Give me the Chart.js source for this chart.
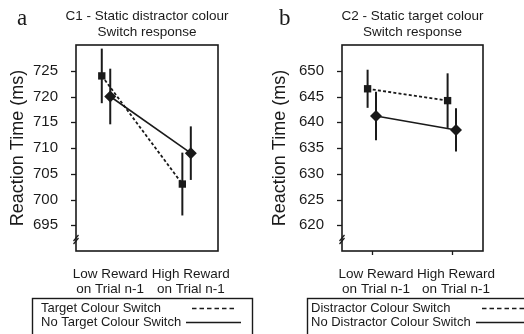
<!DOCTYPE html>
<html>
<head>
<meta charset="utf-8">
<script src="https://cdn.jsdelivr.net/npm/chart.js@4.4.0/dist/chart.umd.min.js"></script>
<style>
  html, body { margin: 0; padding: 0; background: #fff; }
  #wrap { position: relative; width: 524px; height: 334px; overflow: hidden; }
  .panel { position: absolute; top: 0; width: 262px; height: 334px; }
</style>
</head>
<body>
<div id="wrap">
  <div class="panel" style="left:0"><canvas id="panel-a"></canvas></div>
  <div class="panel" style="left:262px"><canvas id="panel-b"></canvas></div>
</div>
<script>
// --- data ---
const categories = [['Low Reward', 'on Trial n-1'], ['High Reward', 'on Trial n-1']];

// panel a : C1
const titleA = ['C1 - Static distractor colour', 'Switch response'];
const ticksA = [695, 700, 705, 710, 715, 720, 725];
const switchMeanA = [724, 703];      // Target Colour Switch (dashed, squares)
const switchErrA = [5.3, 6.1];
const noSwitchMeanA = [720, 709];    // No Target Colour Switch (solid, diamonds)
const noSwitchErrA = [5.4, 5.2];
const legendA = ['Target Colour Switch', 'No Target Colour Switch'];

// panel b : C2
const titleB = ['C2 - Static target colour', 'Switch response'];
const ticksB = [620, 625, 630, 635, 640, 645, 650];
const switchMeanB = [646.5, 644.2];  // Distractor Colour Switch
const switchErrB = [3.7, 5.3];
const noSwitchMeanB = [641.2, 638.5];
const noSwitchErrB = [4.7, 4.2];
const legendB = ['Distractor Colour Switch', 'No Distractor Colour Switch'];

const INK = '#1a1a1a';
const SANS = "'Liberation Sans', Arial, sans-serif";
Chart.defaults.font.family = SANS;
Chart.defaults.color = INK;

function toPoints(means, shift) {
    return means.map((m, i) => ({ x: i + shift, y: m }));
}

// error bars, box, ticks, titles, legend
const panelDecor = {
    id: 'panelDecor',
    beforeDatasetsDraw(chart, args, o) {
        const ctx = chart.ctx;
        const y = chart.scales.y;
        ctx.save();
        ctx.strokeStyle = INK;
        ctx.lineWidth = 2;
        chart.data.datasets.forEach((ds, di) => {
            const meta = chart.getDatasetMeta(di);
            ds.errors.forEach((e, i) => {
                const px = meta.data[i].x;
                ctx.beginPath();
                ctx.moveTo(px, y.getPixelForValue(ds.data[i].y + e));
                ctx.lineTo(px, y.getPixelForValue(ds.data[i].y - e));
                ctx.stroke();
            });
        });
        ctx.restore();
    },
    afterDraw(chart, args, o) {
        const ctx = chart.ctx;
        const a = chart.chartArea;
        const x = chart.scales.x;
        const y = chart.scales.y;
        ctx.save();
        ctx.strokeStyle = INK;
        ctx.fillStyle = INK;

        // frame
        ctx.lineWidth = 1.6;
        ctx.strokeRect(a.left, a.top, a.right - a.left, a.bottom - a.top);

        // y tick marks
        ctx.lineWidth = 1.3;
        y.ticks.forEach(t => {
            const py = Math.round(y.getPixelForValue(t.value)) + 0.5;
            ctx.beginPath();
            ctx.moveTo(a.left - 5, py);
            ctx.lineTo(a.left, py);
            ctx.stroke();
        });
        // x tick marks (only panel b)
        if (o.xTicks) {
            x.ticks.forEach(t => {
                const px = Math.round(x.getPixelForValue(t.value)) + 0.5;
                ctx.beginPath();
                ctx.moveTo(px, a.bottom);
                ctx.lineTo(px, a.bottom + 4);
                ctx.stroke();
            });
        }

        // axis break
        const by = a.bottom - 13;
        ctx.lineWidth = 1.2;
        [0, 3].forEach(d => {
            ctx.beginPath();
            ctx.moveTo(a.left - 2.5, by + 3 + d);
            ctx.lineTo(a.left + 2.5, by - 3 + d);
            ctx.stroke();
        });

        // panel letter
        ctx.font = "23px 'Liberation Serif', 'Times New Roman', serif";
        ctx.textAlign = 'left';
        ctx.textBaseline = 'alphabetic';
        ctx.fillText(o.letter, o.letterX, 25);

        // title
        ctx.font = '13.5px ' + SANS;
        ctx.textAlign = 'center';
        ctx.textBaseline = 'middle';
        const cx = (a.left + a.right) / 2;
        o.title.forEach((line, i) => ctx.fillText(line, cx, 16 + i * 16));

        // legend
        const lx = o.legendX, ly = 298;
        ctx.lineWidth = 1.4;
        ctx.strokeRect(lx + 0.5, ly + 0.5, o.legendW, 60);
        ctx.font = '13px ' + SANS;
        ctx.textAlign = 'left';
        ctx.fillText(o.legend[0], lx + o.textPad, 308);
        ctx.fillText(o.legend[1], lx + o.textPad, 322);
        ctx.lineWidth = 1.6;
        ctx.setLineDash([4.5, 3]);
        ctx.beginPath();
        ctx.moveTo(o.sampleX + 6, 308.5);
        ctx.lineTo(o.sampleX + 51, 308.5);
        ctx.stroke();
        ctx.setLineDash([]);
        ctx.beginPath();
        ctx.moveTo(o.sampleX, 322.5);
        ctx.lineTo(o.sampleX + 55, 322.5);
        ctx.stroke();
        ctx.restore();
    }
};

function makePanel(canvasId, p) {
    const ctx = document.getElementById(canvasId).getContext('2d');
    new Chart(ctx, {
        type: 'scatter',
        data: {
            datasets: [
                {
                    data: toPoints(p.switchMean, -0.055),
                    errors: p.switchErr,
                    showLine: true,
                    borderColor: INK,
                    borderWidth: 1.8,
                    borderDash: [3, 2.2],
                    pointStyle: 'rect',
                    pointRadius: 5.2,
                    pointBackgroundColor: INK,
                    pointBorderColor: INK,
                    pointBorderWidth: 0
                },
                {
                    data: toPoints(p.noSwitchMean, 0.05),
                    errors: p.noSwitchErr,
                    showLine: true,
                    borderColor: INK,
                    borderWidth: 1.6,
                    pointStyle: 'rectRot',
                    pointRadius: 6,
                    pointBackgroundColor: INK,
                    pointBorderColor: INK,
                    pointBorderWidth: 0
                }
            ]
        },
        options: {
            responsive: false,
            animation: false,
            events: [],
            layout: { padding: { left: 0, top: 45, right: p.rightPad, bottom: 0 } },
            plugins: {
                legend: { display: false },
                tooltip: { enabled: false },
                panelDecor: p.decor
            },
            scales: {
                x: {
                    type: 'linear',
                    min: -0.375,
                    max: 1.3875,
                    afterBuildTicks: s => { s.ticks = categories.map((c, i) => ({ value: i })); },
                    afterFit: s => { s.height = 83; },
                    grid: { display: false },
                    border: { display: false },
                    ticks: {
                        callback: (v, i) => categories[i],
                        font: { size: 13.5, lineHeight: 1.1 },
                        color: INK,
                        padding: 8,
                        labelOffset: 4,
                        maxRotation: 0,
                        autoSkip: false
                    }
                },
                y: {
                    min: p.yMin,
                    max: p.yMax,
                    afterBuildTicks: s => { s.ticks = p.ticks.map(v => ({ value: v })); },
                    afterFit: s => { s.width = p.axisW; },
                    grid: { display: false },
                    border: { display: false },
                    ticks: { font: { size: 15 }, color: INK, padding: 10 },
                    title: {
                        display: true,
                        text: 'Reaction Time (ms)',
                        font: { size: 18 },
                        color: INK,
                        padding: { top: 7, bottom: 0 }
                    }
                }
            }
        },
        plugins: [panelDecor]
    });
}

function sizeCanvas(id) {
    const c = document.getElementById(id);
    c.width = 262; c.height = 334;
    c.style.width = '262px'; c.style.height = '334px';
}
sizeCanvas('panel-a');
sizeCanvas('panel-b');

makePanel('panel-a', {
    switchMean: switchMeanA, switchErr: switchErrA,
    noSwitchMean: noSwitchMeanA, noSwitchErr: noSwitchErrA,
    ticks: ticksA, yMin: 690, yMax: 730,
    axisW: 76, rightPad: 44,
    decor: { letter: 'a', letterX: 17, title: titleA, legend: legendA,
             legendX: 32, legendW: 220, textPad: 9, sampleX: 186, xTicks: false }
});
makePanel('panel-b', {
    switchMean: switchMeanB, switchErr: switchErrB,
    noSwitchMean: noSwitchMeanB, noSwitchErr: noSwitchErrB,
    ticks: ticksB, yMin: 615, yMax: 655,
    axisW: 80, rightPad: 41,
    decor: { letter: 'b', letterX: 17, title: titleB, legend: legendB,
             legendX: 45, legendW: 240, textPad: 4, sampleX: 214, xTicks: true }
});
</script>
</body>
</html>
